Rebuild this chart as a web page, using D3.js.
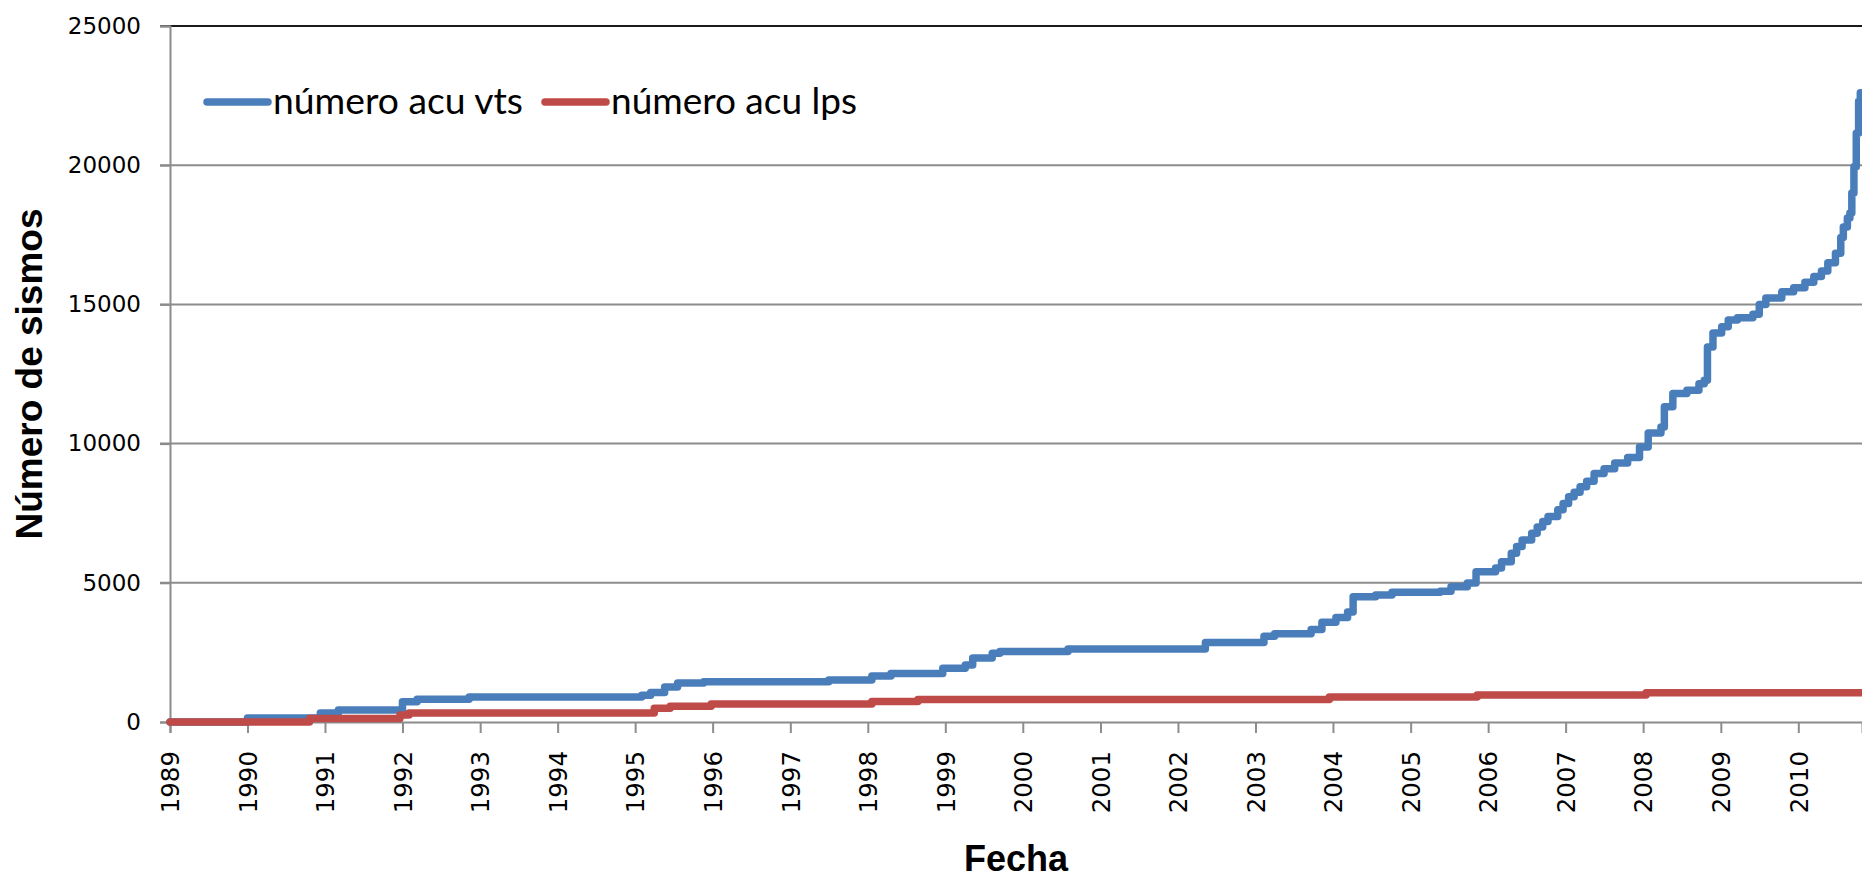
<!DOCTYPE html>
<html>
<head>
<meta charset="utf-8">
<script src="https://cdn.jsdelivr.net/npm/d3@7"></script>
<style>
  html, body { margin: 0; padding: 0; background: #fff; overflow: hidden; }
  svg { display: block; }
</style>
</head>
<body>
<svg id="chart" width="1862" height="881"></svg>
<script>
// Year ticks along the date axis and value ticks on the count axis
const yearTicks = d3.range(1989, 2011);
const valueTicks = [0, 5000, 10000, 15000, 20000, 25000];
const seriesNames = ["número acu vts", "número acu lps"];
const xTitle = "Fecha";
const yTitle = "Número de sismos";

// Cumulative count of VT events (date of each step, count from that date on)
const vtsDates = [
  "1989-01-01","1990-01-01","1990-12-10","1991-03-05","1992-01-01","1992-03-10",
  "1992-11-10","1995-02-01","1995-03-15","1995-05-20","1995-07-20","1995-11-20",
  "1997-07-01","1998-01-20","1998-04-20","1998-12-20","1999-04-05","1999-05-10",
  "1999-08-10","1999-09-15","2000-08-01","2002-05-10","2003-02-10","2003-04-01",
  "2003-09-20","2003-11-10","2004-01-15","2004-03-10","2004-04-05","2004-07-20",
  "2004-10-05","2005-05-20","2005-07-10","2005-09-25","2005-11-05","2006-02-05",
  "2006-03-05","2006-04-20","2006-05-15","2006-06-10","2006-07-25","2006-08-20",
  "2006-09-15","2006-10-10","2006-11-25","2006-12-20","2007-01-15","2007-02-10",
  "2007-03-10","2007-04-10","2007-05-15","2007-07-01","2007-08-20","2007-10-20",
  "2007-12-15","2008-01-25","2008-03-25","2008-04-10","2008-05-20","2008-07-25",
  "2008-09-20","2008-10-15","2008-10-30","2008-11-25","2009-01-05","2009-02-05",
  "2009-03-20","2009-06-01","2009-07-01","2009-08-01","2009-10-15","2009-12-10",
  "2010-02-01","2010-03-15","2010-04-20","2010-05-20","2010-06-25","2010-07-20",
  "2010-08-01","2010-08-20","2010-09-01","2010-09-10","2010-09-20","2010-10-01",
  "2010-10-12","2010-10-20"
];
const vtsValues = [
  0, 140, 320, 430, 730, 820,
  900, 960, 1060, 1260, 1400, 1450,
  1510, 1650, 1740, 1930, 2050, 2300,
  2470, 2530, 2620, 2860, 3080, 3170,
  3320, 3580, 3750, 3950, 4500, 4560,
  4660, 4700, 4860, 4990, 5400, 5530,
  5760, 6060, 6300, 6540, 6780, 7000,
  7200, 7380, 7620, 7850, 8090, 8250,
  8450, 8650, 8930, 9100, 9300, 9500,
  9880, 10380, 10600, 11320, 11800, 11920,
  12150, 12280, 13470, 13970, 14200, 14440,
  14520, 14650, 15000, 15230, 15450, 15600,
  15800, 16000, 16200, 16500, 16840, 17400,
  17780, 18100, 18280, 19000, 19940, 21150,
  22300, 22600
];

// Cumulative count of LP events
const lpsDates = [
  "1989-01-01","1990-10-20","1991-12-20","1992-02-01","1995-04-01","1995-06-15",
  "1995-12-25","1998-01-20","1998-08-25","2003-12-15","2005-11-10","2008-01-15"
];
const lpsValues = [0, 130, 250, 320, 490, 570, 650, 740, 810, 900, 970, 1050];

const colors = ["#4A7EBB", "#BE4B48"];

const svg = d3.select("#chart");
const W = 1862, H = 881;
const plotLeft = 170, plotRight = 1862, plotTop = 26, plotBottom = 722;

const parse = d3.utcParse("%Y-%m-%d");
const endDate = parse("2010-10-28");

const x = d3.scaleUtc()
  .domain([parse("1989-01-01"), endDate])
  .range([plotLeft, plotRight]);
const y = d3.scaleLinear()
  .domain([0, 25000])
  .range([plotBottom, plotTop]);

svg.append("rect").attr("width", W).attr("height", H).attr("fill", "#fff");

// Horizontal gridlines
svg.append("g")
  .selectAll("line")
  .data(valueTicks.filter(v => v > 0))
  .join("line")
  .attr("x1", plotLeft - 10)
  .attr("x2", plotRight)
  .attr("y1", d => y(d))
  .attr("y2", d => y(d))
  .attr("stroke", d => d === 25000 ? "#1a1a1a" : "#8c8c8c")
  .attr("stroke-width", 2);

// Y axis
const yAxis = d3.axisLeft(y)
  .tickValues(valueTicks)
  .tickSize(10)
  .tickPadding(19)
  .tickFormat(d3.format("d"));
const gy = svg.append("g").attr("transform", `translate(${plotLeft},0)`).call(yAxis);
gy.select(".domain").attr("stroke", "#8c8c8c").attr("stroke-width", 2);
gy.selectAll(".tick line").attr("stroke", "#8c8c8c").attr("stroke-width", 2);
gy.selectAll(".tick text")
  .attr("font-family", "'DejaVu Sans', Verdana, sans-serif")
  .attr("font-size", 23)
  .attr("fill", "#000");

// X axis with yearly ticks
const xAxis = d3.axisBottom(x)
  .tickValues(yearTicks.map(yr => new Date(Date.UTC(yr, 0, 1))))
  .tickSize(11)
  .tickFormat(d3.utcFormat("%Y"));
const gx = svg.append("g").attr("transform", `translate(0,${plotBottom})`).call(xAxis);
gx.select(".domain").attr("stroke", "#8c8c8c").attr("stroke-width", 2);
gx.selectAll(".tick line").attr("stroke", "#8c8c8c").attr("stroke-width", 2);
gx.selectAll(".tick text")
  .attr("font-family", "'DejaVu Sans', Verdana, sans-serif")
  .attr("font-size", 24.5)
  .attr("fill", "#000")
  .attr("text-anchor", "end")
  .attr("transform", "rotate(-90)")
  .attr("x", -29)
  .attr("y", 0)
  .attr("dy", "0.36em");

// Series lines (stepped cumulative counts)
function toPoints(dates, values) {
  const pts = dates.map((d, i) => ({ date: parse(d), value: values[i] }));
  pts.push({ date: endDate, value: values[values.length - 1] });
  return pts;
}
const series = [toPoints(vtsDates, vtsValues), toPoints(lpsDates, lpsValues)];

const line = d3.line()
  .x(d => x(d.date))
  .y(d => y(d.value))
  .curve(d3.curveStepAfter);

svg.append("g")
  .selectAll("path")
  .data(series)
  .join("path")
  .attr("d", line)
  .attr("fill", "none")
  .attr("stroke", (d, i) => colors[i])
  .attr("stroke-width", 7.5)
  .attr("stroke-linejoin", "round")
  .attr("stroke-linecap", "round");

// Legend
const legendItems = [
  { name: seriesNames[0], color: colors[0], x1: 207, x2: 268, tx: 273, width: 250 },
  { name: seriesNames[1], color: colors[1], x1: 545, x2: 606, tx: 611, width: 246 }
];
const lg = svg.append("g");
legendItems.forEach(item => {
  lg.append("line")
    .attr("x1", item.x1).attr("x2", item.x2)
    .attr("y1", 102).attr("y2", 102)
    .attr("stroke", item.color)
    .attr("stroke-width", 7.5)
    .attr("stroke-linecap", "round");
  lg.append("text")
    .attr("x", item.tx)
    .attr("y", 114)
    .attr("font-family", "Lato, 'Open Sans', sans-serif")
    .attr("font-size", 37)
    .attr("fill", "#000")
    .attr("textLength", item.width)
    .attr("lengthAdjust", "spacingAndGlyphs")
    .text(item.name);
});

// Axis titles
svg.append("text")
  .attr("x", (plotLeft + plotRight) / 2)
  .attr("y", 871)
  .attr("text-anchor", "middle")
  .attr("font-family", "'Liberation Sans', Arial, sans-serif")
  .attr("font-weight", "bold")
  .attr("font-size", 36)
  .attr("fill", "#000")
  .text(xTitle);

svg.append("text")
  .attr("transform", `translate(42,${(plotTop + plotBottom) / 2}) rotate(-90)`)
  .attr("text-anchor", "middle")
  .attr("font-family", "'Liberation Sans', Arial, sans-serif")
  .attr("font-weight", "bold")
  .attr("font-size", 37)
  .attr("fill", "#000")
  .text(yTitle);
</script>
</body>
</html>
